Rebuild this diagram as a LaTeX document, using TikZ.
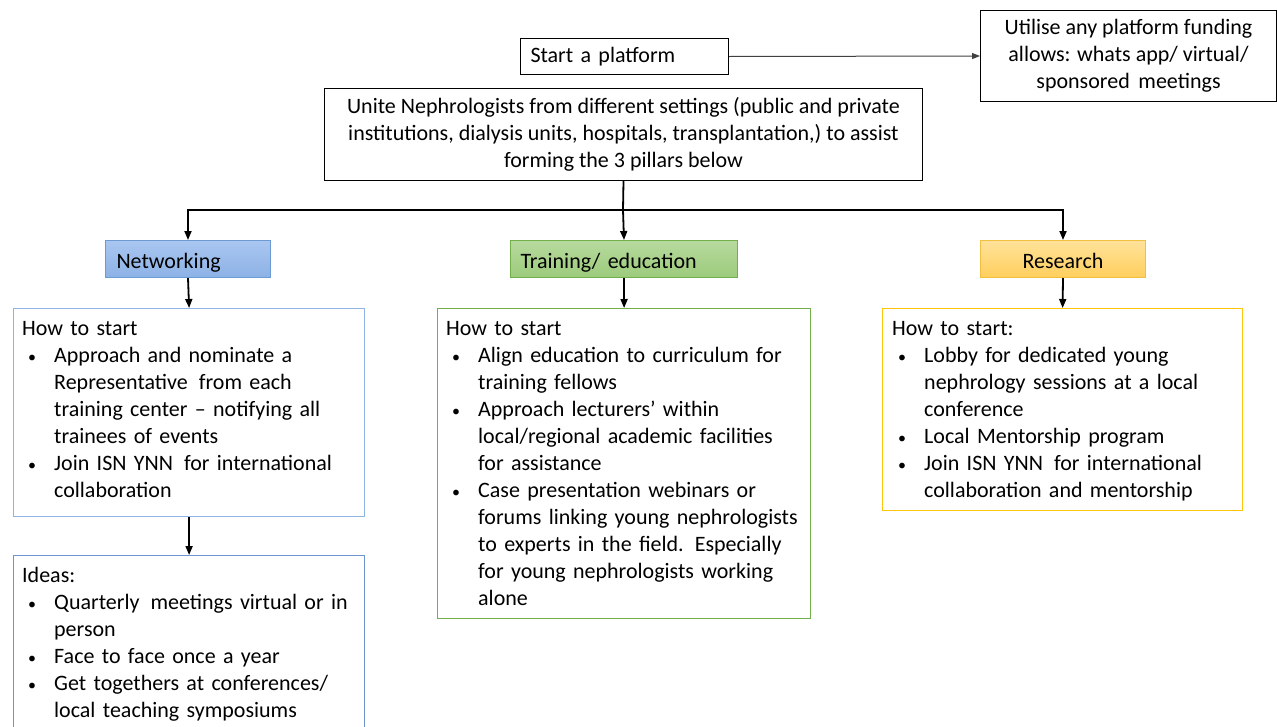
\documentclass[tikz,border=0pt]{standalone}
\usepackage{fontspec}
\setmainfont{Carlito}
\usetikzlibrary{arrows.meta}
\definecolor{netline}{HTML}{8EB4E3}
\definecolor{netdark}{HTML}{6C9AD2}
\definecolor{nettop}{HTML}{A9C6F0}
\definecolor{netbot}{HTML}{8DB2E6}
\definecolor{trline}{HTML}{72AE4A}
\definecolor{trtop}{HTML}{B7DA9E}
\definecolor{trbot}{HTML}{9CCB7B}
\definecolor{rsline}{HTML}{F2C040}
\definecolor{rstop}{HTML}{FFE29A}
\definecolor{rsbot}{HTML}{FFCF5E}
\definecolor{rsframe}{HTML}{FFC50A}
\definecolor{idealine}{HTML}{6F95CF}
\newcommand{\bitem}[1]{\par\noindent\hangindent=32pt\hangafter=1\makebox[32pt][l]{\hspace{6pt}{\fontsize{16}{16}\selectfont\textbullet}}#1}
\newcommand{\hd}[1]{\noindent #1}
\begin{document}
\begin{tikzpicture}[x=1pt,y=-1pt,
  every node/.style={font=\fontsize{22}{27}\selectfont},
  frame/.style={draw, rectangle, line width=1.2pt, anchor=north west, inner sep=0pt},
  tag/.style={draw, rectangle, line width=1pt, anchor=north west, minimum height=37pt, text height=19pt, text depth=1pt},
  txt/.style={anchor=north west, inner xsep=9pt, inner ysep=13pt, text width=420pt, execute at begin node={\hyphenpenalty=10000\exhyphenpenalty=10000\raggedright}},
  arr/.style={line width=1.8pt, -{Triangle[length=9pt,width=7pt]}},
  plain/.style={line width=1.8pt}]
\useasboundingbox (0,0) rectangle (1277,726);

% top
\node[frame, line width=1pt, minimum width=208pt, minimum height=36pt, inner xsep=10pt, text width=188pt] (start) at (520,38) {Start a platform};
\node[frame, line width=1pt, minimum width=296pt, minimum height=91pt, align=center] (util) at (980,10) {Utilise any platform funding\\allows: whats app/ virtual/\\sponsored\, meetings};
\node[frame, line width=1pt, minimum width=598pt, minimum height=92pt, align=center] (unite) at (324,88) {Unite Nephrologists from different settings (public and private\\institutions, dialysis units, hospitals, transplantation,) to assist\\forming the 3 pillars below};
\draw[line width=1pt, draw=black!75, -{Triangle[length=8pt,width=6pt]}] (start.east) -- (util.west);

% tags
\node[tag, draw=netdark, top color=nettop, bottom color=netbot, minimum width=165pt, inner xsep=11pt, text width=143pt] (net) at (105,240) {Networking};
\node[tag, draw=trline, top color=trtop, bottom color=trbot, minimum width=227pt, inner xsep=10pt, text width=207pt] (train) at (510,240) {Training/ education};
\node[tag, draw=rsline, top color=rstop, bottom color=rsbot, minimum width=165pt, align=center] (res) at (980,240) {Research};

\coordinate (split) at (623,210);
\draw[plain] (unite.south) -- (split);
\draw[arr] (split) -- (train.north);
\draw[arr] (split) -| (net.north);
\draw[arr] (split) -| (res.north);

% content boxes
\node[frame, draw=netline, minimum width=351pt, minimum height=208pt] (nbox) at (13,308) {};
\node[frame, draw=trline, minimum width=373pt, minimum height=310pt] (tbox) at (437,308) {};
\node[frame, draw=rsframe, minimum width=360pt, minimum height=202pt] (rbox) at (882,308) {};
\node[frame, draw=idealine, minimum width=351pt, minimum height=200pt] (ibox) at (13,555) {};

\draw[arr] (net.south) -- (nbox.north);
\draw[arr] (train.south) -- (tbox.north);
\draw[arr] (res.south) -- (rbox.north);
\draw[arr] (nbox.south) -- (ibox.north);

\node[txt] (ntxt) at (nbox.north west) {\hd{How to start}
\bitem{Approach and nominate a\newline Representative\, from each\newline training center -- notifying all\newline trainees of events}
\bitem{Join ISN YNN\, for international\newline collaboration}\par};

\node[txt] (ttxt) at (tbox.north west) {\hd{How to start}
\bitem{Align education to curriculum for\newline training fellows}
\bitem{Approach lecturers' within\newline local/regional academic facilities\newline for assistance}
\bitem{Case presentation webinars or\newline forums linking young nephrologists\newline to experts in the field. Especially\newline for young nephrologists working\newline alone}\par};

\node[txt, inner xsep=10pt] (rtxt) at (rbox.north west) {\hd{How to start:}
\bitem{Lobby for dedicated young\newline nephrology sessions at a local\newline conference}
\bitem{Local Mentorship program}
\bitem{Join ISN YNN\, for international\newline collaboration and mentorship}\par};

\node[txt, inner ysep=12pt] (itxt) at (ibox.north west) {\hd{Ideas:}
\bitem{Quarterly\, meetings virtual or in\newline person}
\bitem{Face to face once a year}
\bitem{Get togethers at conferences/\newline local teaching symposiums}\par};
\end{tikzpicture}
\end{document}
